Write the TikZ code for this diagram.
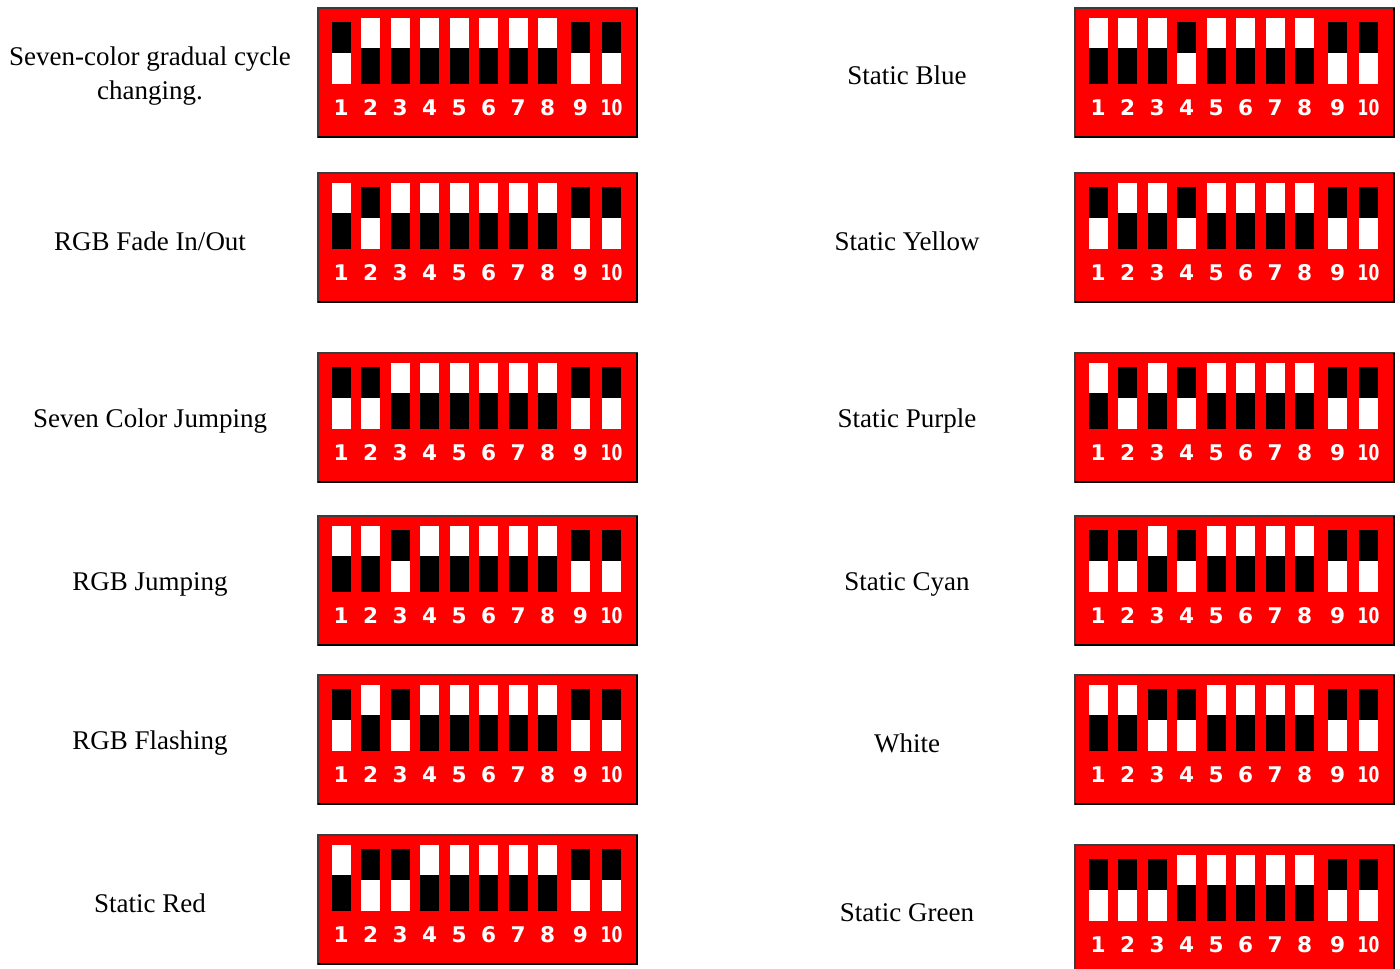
\documentclass[tikz,border=0pt]{standalone}
\usepackage{fontspec}
\setmainfont{Liberation Serif}
\newfontfamily\numfont{DejaVu Sans}
\definecolor{dipred}{RGB}{255,0,0}
\definecolor{diprim}{RGB}{60,60,60}

% one DIP panel: name, left x, top y, switch states (1 = black on top)
\newcommand{\dippanel}[4]{%
  \begin{scope}[shift={(#2,#3)}]
    \fill[dipred] (0,0) rectangle (319,129);
    \draw[panelrim] (0,0) rectangle (319,129);
    \draw[panelshade] (319,0) -- (319,129) -- (0,129);
    \foreach \s [count=\i] in {#4} {
      \pgfmathsetmacro{\xo}{\i<9 ? 13.7+(\i-1)*29.5 : (\i==9 ? 253 : 284)}
      \ifnum\s=1
        \fill[black] (\xo,14) rectangle ++(19,31);
        \fill[white] (\xo,45) rectangle ++(19,31);
      \else
        \fill[white] (\xo,10) rectangle ++(19,30);
        \fill[black] (\xo,40) rectangle ++(19,36);
      \fi
      \node[dipnum] (#1-\i) at (\xo+9.5,99.5)
        {\ifnum\i=10 \scalebox{0.72}[1]{10}\else\i\fi};
    }
  \end{scope}}

\begin{document}
\begin{tikzpicture}[x=0.5pt, y=-0.5pt,
  lbl/.style={font=\fontsize{13.5}{17}\selectfont, align=center, inner sep=0pt},
  dipnum/.style={font=\numfont\bfseries\fontsize{10.8}{12}\selectfont, text=white, inner sep=0pt},
  panelrim/.style={draw=diprim, line width=0.6pt},
  panelshade/.style={draw=black, line width=1.2pt}]
  \clip (0,0) rectangle (1400,968);
  \fill[white] (0,0) rectangle (1400,968);

  % left column
  \dippanel{sa}{318}{8}{1,0,0,0,0,0,0,0,1,1}
  \dippanel{sb}{318}{173}{0,1,0,0,0,0,0,0,1,1}
  \dippanel{sc}{318}{353}{1,1,0,0,0,0,0,0,1,1}
  \dippanel{sd}{318}{516}{0,0,1,0,0,0,0,0,1,1}
  \dippanel{se}{318}{675}{1,0,1,0,0,0,0,0,1,1}
  \dippanel{sf}{318}{835}{0,1,1,0,0,0,0,0,1,1}
  \node[lbl] (la) at (150,76) {Seven-color gradual cycle\\changing.};
  \node[lbl] (lb) at (150,241) {RGB Fade In/Out};
  \node[lbl] (lc) at (150,421) {Seven Color Jumping};
  \node[lbl] (ld) at (150,584) {RGB Jumping};
  \node[lbl] (le) at (150,743) {RGB Flashing};
  \node[lbl] (lf) at (150,903) {Static Red};

  % right column
  \dippanel{ra}{1075}{8}{0,0,0,1,0,0,0,0,1,1}
  \dippanel{rb}{1075}{173}{1,0,0,1,0,0,0,0,1,1}
  \dippanel{rc}{1075}{353}{0,1,0,1,0,0,0,0,1,1}
  \dippanel{rd}{1075}{516}{1,1,0,1,0,0,0,0,1,1}
  \dippanel{re}{1075}{675}{0,0,1,1,0,0,0,0,1,1}
  \dippanel{rf}{1075}{845}{1,1,1,0,0,0,0,0,1,1}
  \node[lbl] (ma) at (907,75) {Static Blue};
  \node[lbl] (mb) at (907,241) {Static Yellow};
  \node[lbl] (mc) at (907,421) {Static Purple};
  \node[lbl] (md) at (907,584) {Static Cyan};
  \node[lbl] (me) at (907,743) {White};
  \node[lbl] (mf) at (907,913) {Static Green};
\end{tikzpicture}
\end{document}
